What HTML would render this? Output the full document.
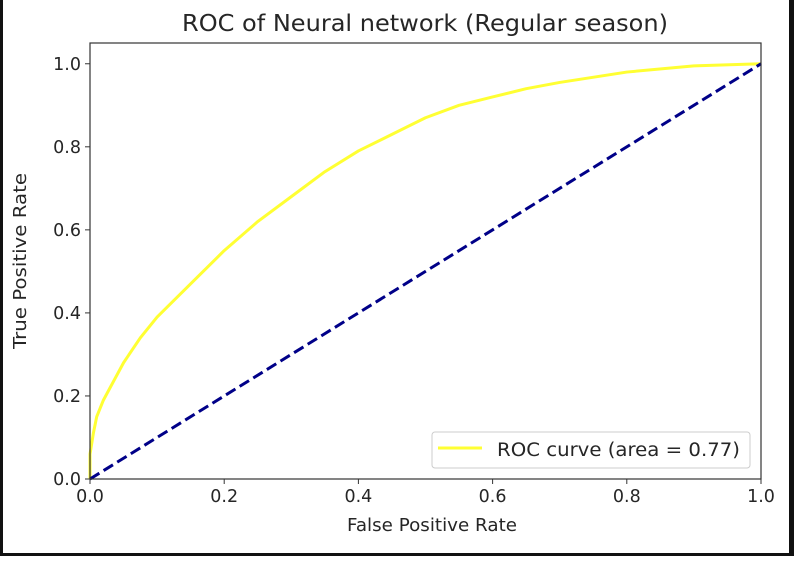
<!DOCTYPE html>
<html><head><meta charset="utf-8"><style>
html,body{margin:0;padding:0;background:#fff;}
body{width:794px;height:556px;overflow:hidden;position:relative;}
text{font-family:"DejaVu Sans","Liberation Sans",sans-serif;fill:#262626;}
</style></head><body>
<svg id="chart" width="794" height="556">
<rect x="0" y="0" width="3" height="556" fill="#111"/>
<rect x="789" y="0" width="5" height="556" fill="#111"/>
<rect x="0" y="553" width="794" height="3" fill="#111"/>
<text x="425" y="31" font-size="23" text-anchor="middle" textLength="486" lengthAdjust="spacingAndGlyphs">ROC of Neural network (Regular season)</text>
<g id="plot"></g>
<text x="432" y="531" font-size="17.5" text-anchor="middle" textLength="170" lengthAdjust="spacingAndGlyphs">False Positive Rate</text>
<text x="26" y="261" font-size="17.5" text-anchor="middle" transform="rotate(-90 26 261)" textLength="176" lengthAdjust="spacingAndGlyphs">True Positive Rate</text>
<g>
<rect x="432" y="432" width="318" height="36" rx="3" fill="#fff" stroke="#ccc"/>
<line x1="438" y1="448" x2="482" y2="448" stroke="#ffff33" stroke-width="3"/>
<text x="497" y="456" font-size="18.5" textLength="243" lengthAdjust="spacingAndGlyphs">ROC curve (area = 0.77)</text>
</g>
</svg>
<script>
const fpr=[0,0,0.005,0.01,0.02,0.03,0.05,0.075,0.1,0.15,0.2,0.25,0.3,0.35,0.4,0.45,0.5,0.55,0.6,0.65,0.7,0.8,0.9,1];
const tpr=[0,0.06,0.11,0.15,0.19,0.22,0.28,0.34,0.39,0.47,0.55,0.62,0.68,0.74,0.79,0.83,0.87,0.9,0.92,0.94,0.955,0.98,0.995,1];
const diagX=[0,1];
const diagY=[0,1];
const xTicks=[0,0.2,0.4,0.6,0.8,1.0];
const yTicks=[0,0.2,0.4,0.6,0.8,1.0];
const L=90,R=761,B=479,T=43;
const sx=v=>L+v*(R-L);
const sy=v=>B-v/1.05*(B-T);
const NS='http://www.w3.org/2000/svg';
const g=document.getElementById('plot');
function mk(t,a){const e=document.createElementNS(NS,t);for(const k in a)e.setAttribute(k,a[k]);g.appendChild(e);return e;}
const curve=mk('polyline',{points:fpr.map((x,i)=>sx(x)+','+sy(tpr[i])).join(' '),fill:'none',stroke:'#ffff33','stroke-width':3,'stroke-linejoin':'round'});


const diag=mk('polyline',{points:diagX.map((x,i)=>sx(x)+','+sy(diagY[i])).join(' '),fill:'none',stroke:'#000088','stroke-width':3,'stroke-dasharray':'11,5'});


const frame=mk('rect',{x:L,y:T,width:R-L,height:B-T,fill:'none',stroke:'#333','stroke-width':1.2});


xTicks.forEach(v=>{
 const l=mk('line',{x1:sx(v),x2:sx(v),y1:B,y2:B+5,stroke:'#333'});
 
 
 const t=mk('text',{x:sx(v),y:B+23,'font-size':17.5,'text-anchor':'middle'});t.textContent=v.toFixed(1);
 
 
});
yTicks.forEach(v=>{
 const l=mk('line',{x1:L-5,x2:L,y1:sy(v),y2:sy(v),stroke:'#333'});
 
 
 const t=mk('text',{x:L-9,y:sy(v)+6,'font-size':17.5,'text-anchor':'end'});t.textContent=v.toFixed(1);
 
 
});
</script>
</body></html>
